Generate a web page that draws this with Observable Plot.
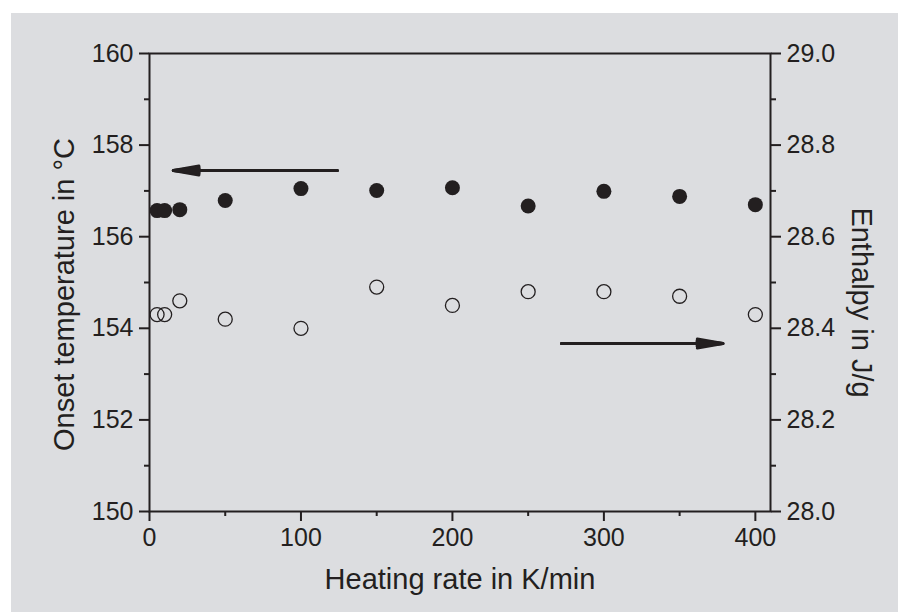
<!DOCTYPE html>
<html>
<head>
<meta charset="utf-8">
<script src="https://cdn.jsdelivr.net/npm/d3@7"></script>
<script src="https://cdn.jsdelivr.net/npm/@observablehq/plot@0.6"></script>
<style>
  html, body { margin: 0; padding: 0; background: #ffffff; }
  #chart { position: absolute; left: 11px; top: 13px; }
</style>
</head>
<body>
<div id="chart"></div>
<script>
// Data
const heatingRate = [5, 10, 20, 50, 100, 150, 200, 250, 300, 350, 400];
const onsetTemp   = [156.57, 156.57, 156.59, 156.79, 157.05, 157.01, 157.07, 156.67, 156.99, 156.88, 156.70];
const enthalpy    = [28.43, 28.43, 28.46, 28.42, 28.40, 28.49, 28.45, 28.48, 28.48, 28.47, 28.43];

const xTicks = [0, 100, 200, 300, 400];
const xMinorTicks = [50, 150, 250, 350];
const leftTicks = [150, 152, 154, 156, 158, 160];
const leftMinorTicks = [151, 153, 155, 157, 159];
const rightTicks = [28.0, 28.2, 28.4, 28.6, 28.8, 29.0];
const rightTickLabels = ["28.0", "28.2", "28.4", "28.6", "28.8", "29.0"];
const rightMinorTicks = [28.1, 28.3, 28.5, 28.7, 28.9];

// Annotation arrows: start x, end x, y value, axis the y value refers to
const arrowStartX = [124, 272];
const arrowEndX = [15.7, 378.6];
const arrowY = [157.445, 28.367];
const arrowAxis = ["left", "right"];

const xTitle = "Heating rate in K/min";
const leftTitle = "Onset temperature in °C";
const rightTitle = "Enthalpy in J/g";

// Right axis (28.0–29.0) mapped onto the left scale (150–160)
const rightDomain = [28, 29], leftDomain = [150, 160];
const toLeft = v => leftDomain[0] + (v - rightDomain[0]) * (leftDomain[1] - leftDomain[0]) / (rightDomain[1] - rightDomain[0]);

const points = heatingRate.map((r, i) => ({rate: r, onset: onsetTemp[i], enthalpy: toLeft(enthalpy[i])}));
const arrows = arrowStartX.map((x, i) => {
  const y = arrowAxis[i] === "left" ? arrowY[i] : toLeft(arrowY[i]);
  return {x1: x, x2: arrowEndX[i], y1: y, y2: y};
});

const ink = "#231f20";
const tickFont = 25;
// several head angles overlaid so the arrowhead reads as a filled wedge
const arrowMarks = [20, 13, 6].map(a =>
  Plot.arrow(arrows, {x1: "x1", y1: "y1", x2: "x2", y2: "y2", stroke: ink, strokeWidth: 3, headLength: 13, headAngle: a}));

const chart = Plot.plot({
  width: 887,
  height: 599,
  marginLeft: 138,
  marginTop: 40,
  marginRight: 128,
  marginBottom: 101,
  style: {background: "#dcdde0", fontFamily: "'Liberation Sans', Arial, sans-serif", fontSize: "25px", color: ink},
  x: {domain: [0, 410]},
  y: {domain: leftDomain},
  marks: [
    Plot.axisX({ticks: xTicks, tickSize: 10, tickPadding: 7, fontSize: tickFont, strokeWidth: 2, label: null}),
    Plot.axisX({ticks: xMinorTicks, tickSize: 5, strokeWidth: 2, tickFormat: () => "", label: null}),
    Plot.axisY({anchor: "left", ticks: leftTicks, tickSize: 10, tickPadding: 6, fontSize: tickFont, strokeWidth: 2, label: null}),
    Plot.axisY({anchor: "left", ticks: leftMinorTicks, tickSize: 5, strokeWidth: 2, tickFormat: () => "", label: null}),
    Plot.axisY({anchor: "right", ticks: rightTicks.map(toLeft), tickSize: 10, tickPadding: 6, fontSize: tickFont, strokeWidth: 2, label: null,
      tickFormat: (d, i) => rightTickLabels[i]}),
    Plot.axisY({anchor: "right", ticks: rightMinorTicks.map(toLeft), tickSize: 5, strokeWidth: 2, tickFormat: () => "", label: null}),
    Plot.frame({stroke: ink, strokeWidth: 2}),
    ...arrowMarks,
    Plot.dot(points, {x: "rate", y: "onset", r: 7.5, fill: ink, stroke: "none"}),
    Plot.dot(points, {x: "rate", y: "enthalpy", r: 7, fill: "none", stroke: ink, strokeWidth: 1.3}),
    Plot.text([xTitle], {frameAnchor: "bottom", dy: 68, fontSize: 29, textAnchor: "middle", lineAnchor: "middle", fill: ink}),
    Plot.text([leftTitle], {frameAnchor: "left", rotate: -90, dx: -85, dy: 12, fontSize: 29, textAnchor: "middle", lineAnchor: "middle", fill: ink}),
    Plot.text([rightTitle], {frameAnchor: "right", rotate: 90, dx: 91, dy: 20, fontSize: 29, textAnchor: "middle", lineAnchor: "middle", fill: ink})
  ]
});
document.getElementById("chart").appendChild(chart);
</script>
</body>
</html>
